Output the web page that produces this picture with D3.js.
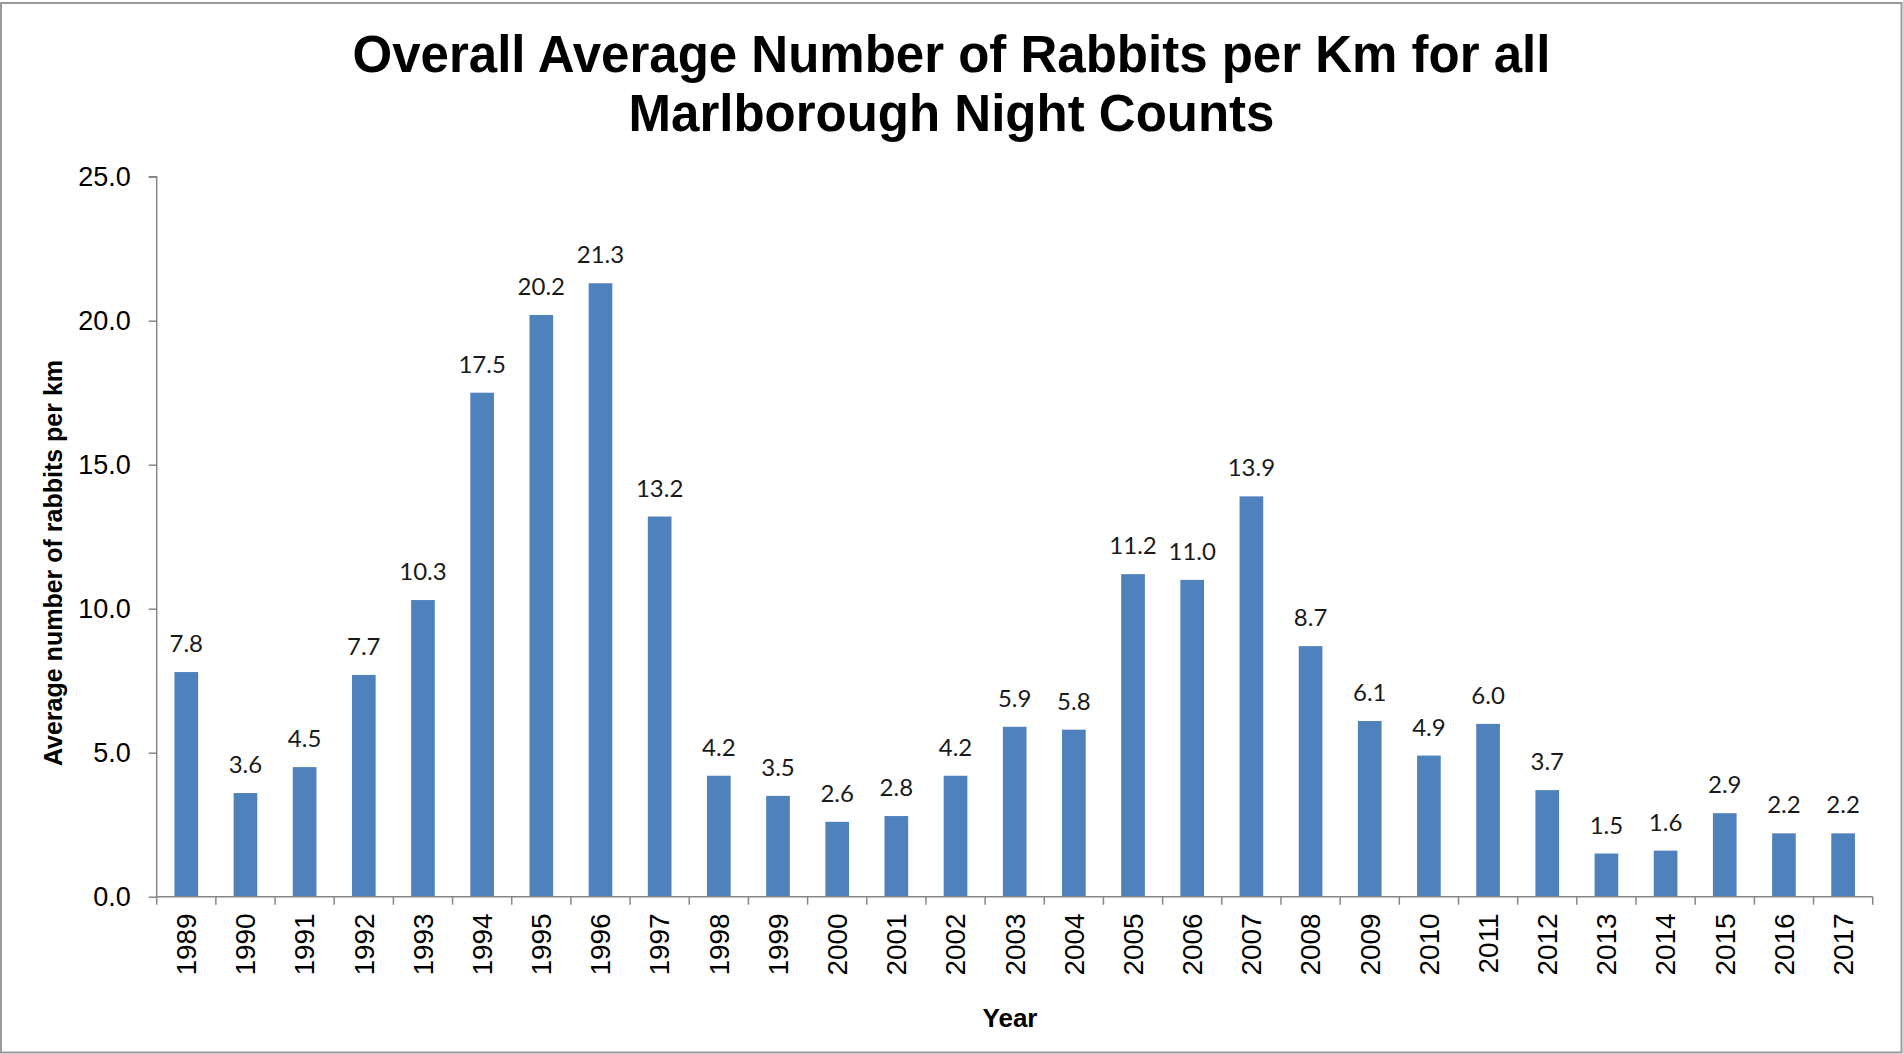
<!DOCTYPE html>
<html>
<head>
<meta charset="utf-8">
<script src="https://cdn.jsdelivr.net/npm/d3@7"></script>
<style>
  html, body { margin: 0; padding: 0; background: #fff; }
  svg { display: block; }
</style>
</head>
<body>
<div id="chart"></div>
<script>
const years = ["1989","1990","1991","1992","1993","1994","1995","1996","1997","1998","1999","2000","2001","2002","2003","2004","2005","2006","2007","2008","2009","2010","2011","2012","2013","2014","2015","2016","2017"];
const rabbitsPerKm = [7.8,3.6,4.5,7.7,10.3,17.5,20.2,21.3,13.2,4.2,3.5,2.6,2.8,4.2,5.9,5.8,11.2,11.0,13.9,8.7,6.1,4.9,6.0,3.7,1.5,1.6,2.9,2.2,2.2];
const yTicks = [0, 5, 10, 15, 20, 25];
const titleLines = ["Overall Average Number of Rabbits per Km for all", "Marlborough Night Counts"];
const yAxisTitle = "Average number of rabbits per km";
const xAxisTitle = "Year";

const W = 1903, H = 1054;
const plot = { left: 156.7, right: 1872.7, top: 176.7, bottom: 896.7 };

const svg = d3.select("#chart").append("svg").attr("width", W).attr("height", H);

svg.append("rect").attr("x", 1).attr("y", 3).attr("width", W - 2.5).attr("height", H - 4.5)
  .attr("fill", "#fff").attr("stroke", "#9a9a9a").attr("stroke-width", 2);

const x = d3.scaleBand().domain(years).range([plot.left, plot.right]).paddingInner(0.6).paddingOuter(0.3);
const y = d3.scaleLinear().domain([0, 25]).range([plot.bottom, plot.top]);

// title
svg.append("g").selectAll("text").data(titleLines).join("text")
  .attr("x", 951.5).attr("y", (d, i) => 71.7 + i * 59)
  .attr("text-anchor", "middle")
  .style("font-family", "'Liberation Sans', Arial, sans-serif")
  .style("font-weight", "bold").style("font-size", "51px").attr("fill", "#000")
  .text(d => d);

// bars
svg.append("g").selectAll("rect").data(rabbitsPerKm).join("rect")
  .attr("x", (d, i) => x(years[i]))
  .attr("width", x.bandwidth())
  .attr("y", d => y(d))
  .attr("height", d => y(0) - y(d))
  .attr("fill", "#4F81BD");

// data labels
svg.append("g").selectAll("text").data(rabbitsPerKm).join("text")
  .attr("x", (d, i) => x(years[i]) + x.bandwidth() / 2)
  .attr("y", d => y(d) - 20)
  .attr("text-anchor", "middle")
  .style("font-family", "Lato, 'Open Sans', sans-serif")
  .style("font-size", "24px").attr("fill", "#1a1a1a")
  .text(d => d.toFixed(1));

// y axis
const yAxis = svg.append("g").attr("transform", `translate(${plot.left},0)`)
  .call(d3.axisLeft(y).tickValues(yTicks).tickFormat(d3.format(".1f")).tickSize(8).tickPadding(18));
yAxis.select(".domain").attr("stroke", "#868686").attr("stroke-width", 1.5).attr("d", `M-8,${plot.top}H0V${plot.bottom}`);
yAxis.selectAll(".tick line").attr("stroke", "#868686").attr("stroke-width", 1.5);
yAxis.selectAll(".tick text").style("font-family", "'Liberation Sans', Arial, sans-serif")
  .style("font-size", "27px").attr("fill", "#000");

// x axis: ticks at category boundaries
const xAxisG = svg.append("g").attr("transform", `translate(0,${plot.bottom})`);
xAxisG.append("line").attr("x1", plot.left).attr("x2", plot.right).attr("y1", 0).attr("y2", 0)
  .attr("stroke", "#868686").attr("stroke-width", 1.5);
const step = x.step();
const boundaries = d3.range(years.length + 1).map(i => plot.left + i * step);
xAxisG.selectAll("line.tk").data(boundaries).join("line").attr("class", "tk")
  .attr("x1", d => d).attr("x2", d => d).attr("y1", 0).attr("y2", 8)
  .attr("stroke", "#868686").attr("stroke-width", 1.5);
xAxisG.selectAll("text").data(years).join("text")
  .attr("transform", d => `translate(${x(d) + x.bandwidth() / 2},16.6) rotate(-90)`)
  .attr("text-anchor", "end").attr("dy", "0.35em")
  .style("font-family", "'Liberation Sans', Arial, sans-serif")
  .style("font-size", "28px").attr("fill", "#000")
  .text(d => d);

// axis titles
svg.append("text").attr("transform", "translate(62,563) rotate(-90)")
  .attr("text-anchor", "middle")
  .style("font-family", "'Liberation Sans', Arial, sans-serif")
  .style("font-weight", "bold").style("font-size", "25px").attr("fill", "#000")
  .text(yAxisTitle);
svg.append("text").attr("x", 1010).attr("y", 1026.7)
  .attr("text-anchor", "middle")
  .style("font-family", "'Liberation Sans', Arial, sans-serif")
  .style("font-weight", "bold").style("font-size", "26px").attr("fill", "#000")
  .text(xAxisTitle);
</script>
</body>
</html>
